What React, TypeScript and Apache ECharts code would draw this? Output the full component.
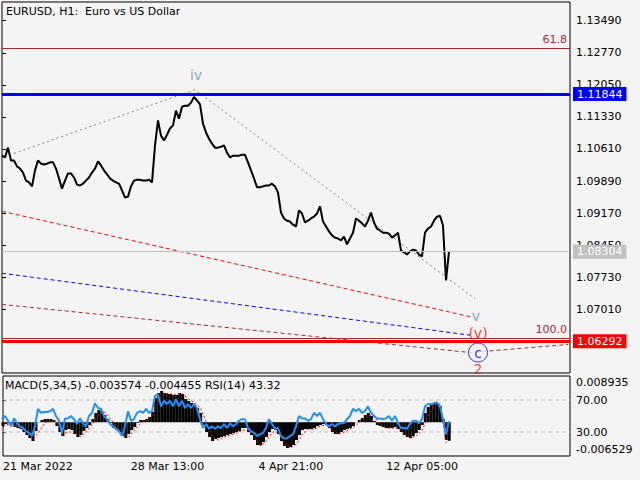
import React, { useEffect, useRef } from 'react';
import * as echarts from 'echarts';

const FONT = '"DejaVu Sans", Verdana, sans-serif';
const BG = '#f4f4f4';

// one value every 3 hourly bars
const STEP = 3;
const priceClose = [
  1.1046, 1.1042, 1.1064, 1.1035, 1.1035, 1.1022, 1.1017, 1.1008, 1.0990, 1.0986,
  1.0977, 1.1013, 1.1035, 1.1028, 1.1026, 1.1028, 1.1031, 1.1031, 1.1017, 1.0995,
  1.0972, 1.0990, 1.1006, 1.1006, 1.0997, 1.0981, 1.0979, 1.0983, 1.0990, 1.0997,
  1.1008, 1.1017, 1.1033, 1.1024, 1.1013, 1.1004, 1.0995, 1.0990, 1.0986, 1.0983,
  1.0968, 1.0952, 1.0954, 1.0977, 1.0990, 1.0992, 1.0992, 1.0990, 1.0990, 1.0992,
  1.0986, 1.1069, 1.1125, 1.1091, 1.1080, 1.1093, 1.1107, 1.1114, 1.1147, 1.1129,
  1.1156, 1.1158, 1.1158, 1.1165, 1.1178, 1.1170, 1.1161, 1.1118, 1.1098, 1.1084,
  1.1073, 1.1064, 1.1064, 1.1066, 1.1069, 1.1053, 1.1042, 1.1046, 1.1046, 1.1046,
  1.1048, 1.1048, 1.1031, 1.1013, 1.0995, 1.0975, 1.0975, 1.0977, 1.0979, 1.0979,
  1.0983, 1.0977, 1.0963, 1.0918, 1.0905, 1.0900, 1.0898, 1.0891, 1.0887, 1.0923,
  1.0916, 1.0896, 1.0900, 1.0905, 1.0909, 1.0916, 1.0932, 1.0898, 1.0887, 1.0876,
  1.0867, 1.0862, 1.0860, 1.0856, 1.0864, 1.0847, 1.0860, 1.0873, 1.0905, 1.0900,
  1.0894, 1.0887, 1.0900, 1.0918, 1.0896, 1.0882, 1.0878, 1.0873, 1.0873, 1.0871,
  1.0862, 1.0867, 1.0873, 1.0833, 1.0829, 1.0824, 1.0831, 1.0835, 1.0833, 1.0824,
  1.0820, 1.0873, 1.0882, 1.0887, 1.0900, 1.0909, 1.0911, 1.0889, 1.0766, 1.0830,
];

const macdHist = [
  -0.00073, -0.00035, -0.00015, -0.00035, -0.00093, -0.00112, -0.00131, -0.00189, -0.00247, -0.00305,
  -0.00363, -0.00170, 0.00004, 0.00043, 0.00062, 0.00062, 0.00062, 0.00043, -0.00073, -0.00189,
  -0.00267, -0.00151, -0.00131, -0.00151, -0.00228, -0.00286, -0.00247, -0.00170, -0.00112, -0.00054,
  0.00062, 0.00178, 0.00236, 0.00216, 0.00139, 0.00062, -0.00015, -0.00112, -0.00151, -0.00189,
  -0.00267, -0.00305, -0.00228, -0.00151, -0.00093, -0.00015, 0.00043, 0.00043, 0.00062, 0.00101,
  0.00197, 0.00468, 0.00564, 0.00603, 0.00564, 0.00545, 0.00545, 0.00526, 0.00526, 0.00564,
  0.00545, 0.00448, 0.00410, 0.00371, 0.00332, 0.00274, 0.00178, -0.00054, -0.00189, -0.00286,
  -0.00363, -0.00325, -0.00305, -0.00286, -0.00267, -0.00247, -0.00228, -0.00209, -0.00189, -0.00170,
  -0.00112, -0.00112, -0.00189, -0.00247, -0.00344, -0.00441, -0.00441, -0.00383, -0.00286, -0.00189,
  -0.00131, -0.00151, -0.00228, -0.00363, -0.00460, -0.00499, -0.00479, -0.00441, -0.00344, -0.00247,
  -0.00151, -0.00131, -0.00131, -0.00131, -0.00112, -0.00073, -0.00054, -0.00035, -0.00054, -0.00112,
  -0.00189, -0.00228, -0.00228, -0.00189, -0.00151, -0.00131, -0.00112, -0.00073, 0.00004, 0.00043,
  0.00081, 0.00139, 0.00178, 0.00120, 0.00023, -0.00054, -0.00073, -0.00093, -0.00112, -0.00112,
  -0.00112, -0.00093, -0.00131, -0.00189, -0.00247, -0.00286, -0.00305, -0.00267, -0.00209, -0.00151,
  -0.00054, 0.00178, 0.00294, 0.00332, 0.00352, 0.00371, 0.00313, 0.00062, -0.00344, -0.003574,
];

// signal line, one value every 6 bars
const SIGNAL_STEP = 6;
const macdSignal = [
  -0.00073, -0.00035, -0.00054, -0.00112, -0.00209, -0.00325, -0.00189, -0.00015, 0.00043, -0.00015,
  -0.00228, -0.00189, -0.00189, -0.00286, -0.00170, -0.00035, 0.00159, 0.00197, 0.00062, -0.00112,
  -0.00228, -0.00286, -0.00151, -0.00015, 0.00043, 0.00139, 0.00429, 0.00564, 0.00545, 0.00526,
  0.00545, 0.00448, 0.00371, 0.00274, -0.00015, -0.00286, -0.00344, -0.00286, -0.00247, -0.00209,
  -0.00151, -0.00151, -0.00286, -0.00460, -0.00363, -0.00189, -0.00189, -0.00421, -0.00499, -0.00421,
  -0.00228, -0.00131, -0.00131, -0.00073, -0.00054, -0.00151, -0.00228, -0.00189, -0.00131, -0.00054,
  0.00043, 0.00139, 0.00101, -0.00054, -0.00112, -0.00112, -0.00112, -0.00209, -0.00305, -0.00267,
  -0.00151, 0.00120, 0.00313, 0.00352, -0.00400,
];

const rsiValues = [
  46, 50, 44, 37, 47, 41, 37, 35, 31, 29,
  25, 37, 59, 54, 55, 55, 56, 59, 50, 44,
  29, 47, 47, 50, 46, 40, 47, 41, 37, 50,
  54, 66, 60, 59, 50, 46, 40, 37, 34, 31,
  25, 37, 56, 44, 46, 54, 56, 54, 59, 54,
  56, 75, 77, 62, 69, 65, 69, 62, 71, 62,
  69, 60, 65, 60, 65, 60, 46, 35, 40, 34,
  37, 34, 37, 35, 40, 35, 41, 37, 40, 44,
  46, 46, 35, 31, 29, 25, 27, 29, 35, 46,
  40, 34, 35, 25, 22, 22, 25, 27, 37, 50,
  47, 47, 44, 46, 54, 50, 54, 46, 40, 37,
  40, 37, 40, 41, 41, 46, 50, 59, 56, 59,
  54, 56, 62, 54, 50, 47, 47, 46, 47, 50,
  44, 50, 41, 35, 35, 34, 40, 44, 44, 41,
  46, 62, 65, 65, 66, 67, 62, 46, 27, 43.32,
];
const rsiLevels = [70, 30];

const MACD_LAST = -0.003574;
const SIGNAL_LAST = -0.004455;
const RSI_LAST = 43.32;
const MACD_MAX = 0.008935;
const MACD_MIN = -0.006529;

const BAR_MAX = 568;
const PRICE_MIN = 1.0558;
const PRICE_MAX = 1.1391;
const priceTicks = [1.1349, 1.1277, 1.1205, 1.1133, 1.1061, 1.0989, 1.0917, 1.0845, 1.0773, 1.0701];
const timeTickBars = [0, 128, 256, 384];
const timeTickLabels = ['21 Mar 2022', '28 Mar 13:00', '4 Apr 21:00', '12 Apr 05:00'];

const LEVEL_BLUE = 1.11844;
const LEVEL_BID = 1.08304;
const LEVEL_RED = 1.06292;
const FIB_618 = 1.12873;
const FIB_100 = 1.06357;

// wave / channel lines
const waveBars = [12, 193, 473];
const wavePrices = [1.1051, 1.1194, 1.0725];
const redChanBars = [0, 471];
const redChanPrices = [1.0921, 1.0683];
const blueChanBars = [0, 468];
const blueChanPrices = [1.0782, 1.0643];
const brownChanBars = [0, 468, 566];
const brownChanPrices = [1.0712, 1.0604, 1.0622];

const waveLabelTexts = ['iv', 'v', '(v)', '2'];
const waveLabelBars = [194, 474, 476, 476];
const waveLabelPrices = [1.1228, 1.0685, 1.0647, 1.0568];
const waveLabelColors = ['#7890a8', '#7890a8', '#ff0000', '#c03020'];
const circleLabel = 'c';
const circleBar = 476;
const circlePrice = 1.0604;

const zip = (xs: number[], ys: number[]) => xs.map((x, i) => [x, ys[i]]);

function buildOption(): any {
  const txt = { fontFamily: FONT, fontSize: 11, color: '#000' };
  const levelLabel = (bg: string, text: string) => ({
    show: true, position: 'end', distance: 3, formatter: text,
    backgroundColor: bg, color: '#fff', padding: [1, 4, 1, 4], lineHeight: 12,
    fontFamily: FONT, fontSize: 11,
  });
  const fibLabel = (text: string) => ({
    show: true, position: 'insideEndTop', distance: 3, formatter: text,
    color: '#a52a2a', fontFamily: FONT, fontSize: 11,
  });
  const dashed = (color: string, dash: number[]) => ({ color, width: 1, type: dash });

  return {
    animation: false,
    backgroundColor: BG,
    title: [
      { text: 'EURUSD, H1:  Euro vs US Dollar', left: 6, top: 6, padding: 0,
        textStyle: { ...txt, fontWeight: 'normal' } },
      { text: `MACD(5,34,5) ${MACD_LAST.toFixed(6)} ${SIGNAL_LAST.toFixed(6)} RSI(14) ${RSI_LAST.toFixed(2)}`,
        left: 5, top: 380, padding: 0, textStyle: { ...txt, fontWeight: 'normal' } },
    ],
    grid: [
      { left: 2, top: 2, width: 568, height: 371, show: true, borderColor: '#000', borderWidth: 1, backgroundColor: 'transparent' },
      { left: 2, top: 376, width: 568, height: 80, show: true, borderColor: '#000', borderWidth: 1, backgroundColor: 'transparent' },
      { left: 2, top: 376, width: 568, height: 80, show: false },
    ],
    xAxis: [
      { gridIndex: 0, type: 'value', min: 0, max: BAR_MAX, show: false },
      {
        gridIndex: 1, type: 'value', min: 0, max: BAR_MAX,
        axisLine: { show: false },
        splitLine: { show: false },
        axisTick: { show: true, customValues: timeTickBars, length: 5, lineStyle: { color: '#000' } },
        axisLabel: {
          customValues: timeTickBars, ...txt, align: 'left', margin: 5,
          formatter: (v: number) => timeTickLabels[timeTickBars.indexOf(v)] ?? '',
        },
      },
      { gridIndex: 2, type: 'value', min: 0, max: BAR_MAX, show: false },
    ],
    yAxis: [
      {
        gridIndex: 0, type: 'value', position: 'right', min: PRICE_MIN, max: PRICE_MAX,
        axisLine: { show: false }, splitLine: { show: false },
        axisTick: { show: true, customValues: priceTicks, length: 4, lineStyle: { color: '#000' } },
        axisLabel: { customValues: priceTicks, ...txt, margin: 6, formatter: (v: number) => v.toFixed(5) },
      },
      {
        gridIndex: 1, type: 'value', position: 'right', min: MACD_MIN, max: MACD_MAX,
        axisLine: { show: false }, splitLine: { show: false }, axisTick: { show: false },
        axisLabel: {
          customValues: [MACD_MAX, MACD_MIN], ...txt, margin: 6,
          formatter: (v: number) => (v > 0 ? `{t|${v.toFixed(6)}}` : `{b|${v.toFixed(6)}}`),
          rich: {
            t: { ...txt, padding: [13, 0, 0, 0] },
            b: { ...txt, padding: [0, 0, 13, 0] },
          },
        },
      },
      {
        gridIndex: 2, type: 'value', position: 'right', min: 0, max: 100,
        axisLine: { show: false }, splitLine: { show: false },
        axisTick: { show: true, customValues: rsiLevels, length: 4, lineStyle: { color: '#000' } },
        axisLabel: { customValues: rsiLevels, ...txt, margin: 6, formatter: (v: number) => v.toFixed(2) },
      },
    ],
    series: [
      // channels / wave lines
      { type: 'line', xAxisIndex: 0, yAxisIndex: 0, data: zip(redChanBars, redChanPrices), showSymbol: false, silent: true, lineStyle: dashed('#ff0000', [4, 3]), z: 2 },
      { type: 'line', xAxisIndex: 0, yAxisIndex: 0, data: zip(blueChanBars, blueChanPrices), showSymbol: false, silent: true, lineStyle: dashed('#0000ff', [4, 3]), z: 2 },
      { type: 'line', xAxisIndex: 0, yAxisIndex: 0, data: zip(brownChanBars, brownChanPrices), showSymbol: false, silent: true, lineStyle: dashed('#a52a2a', [4, 3]), z: 2 },
      { type: 'line', xAxisIndex: 0, yAxisIndex: 0, data: zip(waveBars, wavePrices), showSymbol: false, silent: true, lineStyle: dashed('#808080', [2, 3]), z: 2 },
      // price
      {
        type: 'line', xAxisIndex: 0, yAxisIndex: 0,
        data: priceClose.map((p, i) => [i * STEP, p]),
        showSymbol: false, silent: true,
        lineStyle: { color: '#000', width: 2 },
        z: 4,
        markLine: {
          silent: true, symbol: ['none', 'none'], precision: 5,
          data: [
            { yAxis: FIB_618, lineStyle: { color: '#a52a2a', width: 1, type: 'solid' }, label: fibLabel('61.8') },
            { yAxis: FIB_100, lineStyle: { color: '#a52a2a', width: 1, type: 'solid' }, label: fibLabel('100.0') },
            { yAxis: LEVEL_BID, lineStyle: { color: '#c0c0c0', width: 1, type: 'solid' }, label: levelLabel('#c0c0c0', LEVEL_BID.toFixed(5)) },
            { yAxis: LEVEL_BLUE, lineStyle: { color: '#0000ff', width: 3, type: 'solid' }, label: levelLabel('#0000ff', LEVEL_BLUE.toFixed(5)) },
            { yAxis: LEVEL_RED, lineStyle: { color: '#ff0000', width: 3, type: 'solid' }, label: levelLabel('#ff0000', LEVEL_RED.toFixed(5)) },
          ],
        },
      },
      // wave labels
      {
        type: 'scatter', xAxisIndex: 0, yAxisIndex: 0, silent: true, z: 6,
        symbol: 'rect', symbolSize: 1, itemStyle: { color: 'rgba(0,0,0,0)' },
        label: { show: true, position: 'inside', formatter: '{b}', fontFamily: FONT, fontSize: 14 },
        data: waveLabelTexts.map((t, i) => ({
          name: t, value: [waveLabelBars[i], waveLabelPrices[i]],
          label: { color: waveLabelColors[i] },
        })),
      },
      {
        type: 'scatter', xAxisIndex: 0, yAxisIndex: 0, silent: true, z: 6,
        symbol: 'circle', symbolSize: 19,
        itemStyle: { color: BG, borderColor: '#0000ff', borderWidth: 1 },
        label: { show: true, position: 'inside', formatter: '{b}', color: '#0000ff', fontFamily: FONT, fontSize: 14 },
        data: [{ name: circleLabel, value: [circleBar, circlePrice] }],
      },
      // RSI levels
      ...rsiLevels.map((lv) => ({
        type: 'line', xAxisIndex: 2, yAxisIndex: 2, silent: true, showSymbol: false, z: 1,
        data: [[0, lv], [BAR_MAX, lv]],
        lineStyle: { color: '#c0c0c0', width: 1, type: [4, 3] },
      })),
      // MACD histogram
      {
        type: 'bar', xAxisIndex: 1, yAxisIndex: 1, silent: true, z: 2,
        barWidth: 3,
        data: macdHist.map((v, i) => [i * STEP, v]),
        itemStyle: { color: '#000' },
      },
      // signal
      {
        type: 'line', xAxisIndex: 1, yAxisIndex: 1, silent: true, showSymbol: false, z: 3,
        data: macdSignal.map((v, j) => [j * SIGNAL_STEP, v]),
        lineStyle: { color: '#ff0000', width: 1, type: [2, 2] },
      },
      // RSI
      {
        type: 'line', xAxisIndex: 2, yAxisIndex: 2, silent: true, showSymbol: false, z: 4,
        data: rsiValues.map((v, i) => [i * STEP, v]),
        lineStyle: { color: '#1e90ff', width: 2 },
      },
    ],
  };
}

export default function App() {
  const ref = useRef<HTMLDivElement>(null);
  useEffect(() => {
    document.body.style.margin = '0';
    const chart = echarts.init(ref.current!, undefined, { renderer: 'svg' });
    chart.setOption(buildOption());
    return () => chart.dispose();
  }, []);
  return (
    <div
      ref={ref}
      style={{ width: 640, height: 480, position: 'absolute', left: 0, top: 0, background: BG }}
    />
  );
}
